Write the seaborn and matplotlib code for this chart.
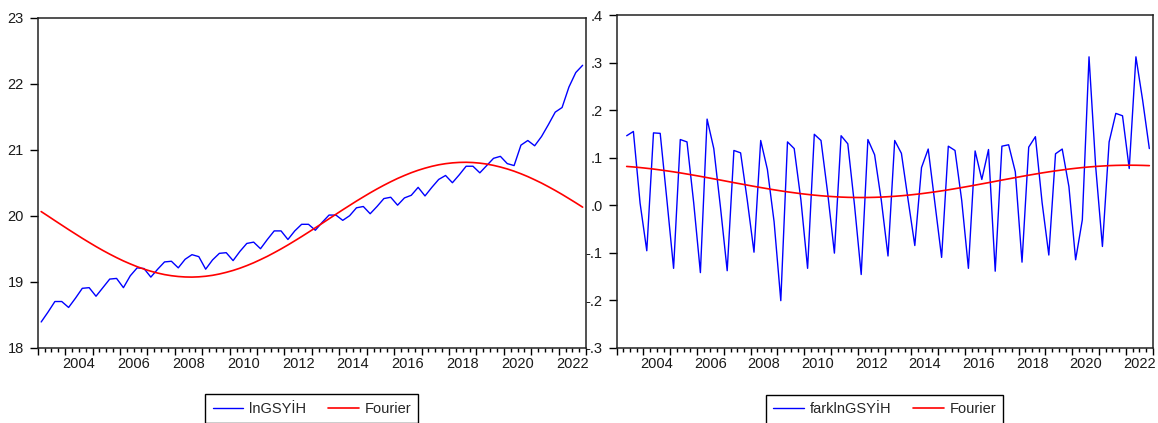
import numpy as np
import pandas as pd
import matplotlib
matplotlib.use("Agg")
import matplotlib.pyplot as plt
import seaborn as sns

# quarterly sample 2003Q1 - 2022Q4
quarters = pd.period_range("2003Q1", "2022Q4", freq="Q")
label_years = list(range(2004, 2023, 2))

# lnGSYİH (levels)
ln_gsyih = [18.39, 18.54, 18.70, 18.70, 18.61, 18.75, 18.90, 18.91,
            18.78, 18.91, 19.04, 19.05, 18.91, 19.09, 19.21, 19.20,
            19.07, 19.19, 19.30, 19.31, 19.21, 19.34, 19.41, 19.38,
            19.19, 19.33, 19.43, 19.44, 19.32, 19.46, 19.58, 19.60,
            19.50, 19.64, 19.77, 19.77, 19.64, 19.77, 19.87, 19.87,
            19.78, 19.90, 20.01, 20.01, 19.93, 20.00, 20.12, 20.14,
            20.03, 20.14, 20.26, 20.28, 20.16, 20.27, 20.31, 20.43,
            20.30, 20.43, 20.55, 20.61, 20.50, 20.62, 20.75, 20.75,
            20.65, 20.76, 20.87, 20.90, 20.79, 20.76, 21.07, 21.14,
            21.06, 21.20, 21.38, 21.57, 21.64, 21.95, 22.17, 22.28]

fourier_lvl = [20.063, 19.995, 19.926, 19.858, 19.790, 19.724, 19.658, 19.595,
               19.533, 19.474, 19.418, 19.365, 19.315, 19.270, 19.228, 19.191,
               19.159, 19.131, 19.108, 19.091, 19.079, 19.072, 19.070, 19.074,
               19.083, 19.097, 19.117, 19.142, 19.171, 19.205, 19.244, 19.287,
               19.335, 19.385, 19.440, 19.497, 19.557, 19.620, 19.684, 19.750,
               19.817, 19.885, 19.954, 20.022, 20.090, 20.156, 20.222, 20.285,
               20.347, 20.406, 20.462, 20.515, 20.565, 20.610, 20.652, 20.689,
               20.721, 20.749, 20.772, 20.789, 20.801, 20.808, 20.810, 20.806,
               20.797, 20.783, 20.763, 20.738, 20.709, 20.675, 20.636, 20.593,
               20.545, 20.495, 20.440, 20.383, 20.323, 20.260, 20.196, 20.130]

# farklnGSYİH (first difference), starts 2003Q2
fark_ln_gsyih = [0.146, 0.155, 0.004, -0.096, 0.152, 0.151, 0.011, -0.133,
                 0.138, 0.133, 0.005, -0.142, 0.181, 0.119, -0.005, -0.138,
                 0.115, 0.110, 0.010, -0.099, 0.136, 0.075, -0.035, -0.201,
                 0.133, 0.119, 0.011, -0.133, 0.149, 0.136, 0.025, -0.101,
                 0.146, 0.129, 0.000, -0.146, 0.138, 0.106, 0.010, -0.107,
                 0.136, 0.109, 0.011, -0.085, 0.079, 0.118, 0.004, -0.110,
                 0.124, 0.115, 0.010, -0.133, 0.114, 0.054, 0.117, -0.139,
                 0.124, 0.127, 0.070, -0.120, 0.122, 0.144, 0.005, -0.105,
                 0.108, 0.118, 0.039, -0.115, -0.031, 0.312, 0.080, -0.087,
                 0.133, 0.193, 0.188, 0.077, 0.312, 0.221, 0.119]

fourier_fark = [0.0814, 0.0803, 0.0790, 0.0775, 0.0759, 0.0740, 0.0721, 0.0700,
                0.0678, 0.0654, 0.0630, 0.0605, 0.0579, 0.0553, 0.0527, 0.0500,
                0.0473, 0.0447, 0.0421, 0.0395, 0.0370, 0.0346, 0.0322, 0.0300,
                0.0279, 0.0260, 0.0241, 0.0225, 0.0210, 0.0197, 0.0186, 0.0177,
                0.0169, 0.0164, 0.0161, 0.0160, 0.0161, 0.0164, 0.0169, 0.0177,
                0.0186, 0.0197, 0.0210, 0.0225, 0.0241, 0.0260, 0.0279, 0.0300,
                0.0322, 0.0346, 0.0370, 0.0395, 0.0421, 0.0447, 0.0473, 0.0500,
                0.0527, 0.0553, 0.0579, 0.0605, 0.0630, 0.0654, 0.0678, 0.0700,
                0.0721, 0.0740, 0.0759, 0.0775, 0.0790, 0.0803, 0.0814, 0.0823,
                0.0831, 0.0836, 0.0839, 0.0840, 0.0839, 0.0836, 0.0831]

sns.set_theme(style="white")
plt.rcParams['font.family'] = ['Liberation Sans', 'DejaVu Sans']

obs = np.arange(len(quarters))
lvl_df = pd.DataFrame({"obs": obs, "lnGSYİH": ln_gsyih, "Fourier": fourier_lvl})
fark_df = pd.DataFrame({"obs": obs[1:], "farklnGSYİH": fark_ln_gsyih, "Fourier": fourier_fark})

fig = plt.figure(figsize=(11.58, 4.23), dpi=100)
ax1 = fig.add_axes([0.0326, 0.178, 0.4735, 0.780])
ax2 = fig.add_axes([0.5325, 0.178, 0.4629, 0.7865])


def style_date_axis(ax):
    ax.set_xlim(-0.5, len(quarters) - 0.5)
    years = sorted(set(q.year for q in quarters)) + [quarters[-1].year + 1]
    year_bounds = [(y - quarters[0].year) * 4 - 0.5 for y in years]
    ax.set_xticks(year_bounds)
    ax.set_xticklabels([])
    ax.set_xticks(np.arange(len(quarters) + 1) - 0.5, minor=True)
    ax.tick_params(axis='x', which='major', direction='out', length=5, width=1, color='black', bottom=True)
    ax.tick_params(axis='x', which='minor', direction='out', length=3, width=1, color='black', bottom=True)
    sec = ax.secondary_xaxis('bottom')
    sec.set_xticks([(y - quarters[0].year) * 4 + 1.5 for y in label_years])
    sec.set_xticklabels([str(y) for y in label_years])
    sec.tick_params(length=0, pad=7, labelsize=10.5, labelcolor='#1a1a1a')
    sec.spines['bottom'].set_visible(False)
    ax.tick_params(axis='y', direction='out', length=6, width=1, color='black', left=True,
                   labelsize=10.5, labelcolor='#1a1a1a', pad=4)
    for s in ax.spines.values():
        s.set_color('#222222')
        s.set_linewidth(1.1)
    ax.set_xlabel('')
    ax.set_ylabel('')


# left panel
sns.lineplot(data=lvl_df, x="obs", y="lnGSYİH", color='#0000FF', linewidth=1.0, label="lnGSYİH", ax=ax1)
sns.lineplot(data=lvl_df, x="obs", y="Fourier", color='#FF0000', linewidth=1.2, label="Fourier", ax=ax1)
ax1.set_ylim(18, 23)
ax1.set_yticks([18, 19, 20, 21, 22, 23])
style_date_axis(ax1)

# right panel
sns.lineplot(data=fark_df, x="obs", y="farklnGSYİH", color='#0000FF', linewidth=1.0, label="farklnGSYİH", ax=ax2)
sns.lineplot(data=fark_df, x="obs", y="Fourier", color='#FF0000', linewidth=1.2, label="Fourier", ax=ax2)
ax2.set_ylim(-0.3, 0.4)
yt = [-0.3, -0.2, -0.1, 0.0, 0.1, 0.2, 0.3, 0.4]
ax2.set_yticks(yt)
ax2.set_yticklabels([('-' if v < 0 else '') + ('.%d' % round(abs(v) * 10)) for v in yt])
style_date_axis(ax2)

for ax in (ax1, ax2):
    leg = ax.legend(loc='center', bbox_to_anchor=(0.5, -0.185), ncol=2, frameon=True,
                    fancybox=False, framealpha=1, edgecolor='black', fontsize=10.5,
                    handlelength=2.1, handletextpad=0.4, columnspacing=1.5,
                    borderpad=0.5, borderaxespad=0)
    leg.get_frame().set_linewidth(1.0)

fig.savefig("out.png", dpi=100)
